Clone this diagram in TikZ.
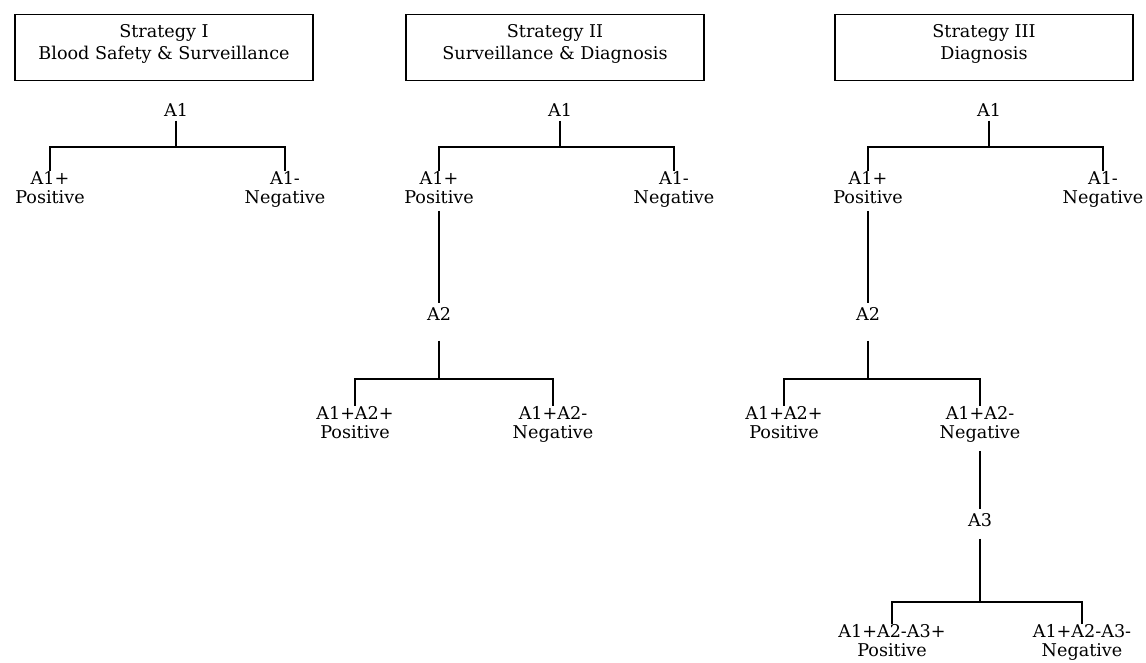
\documentclass[tikz,border=0pt]{standalone}
\usepackage{fontspec}
\setmainfont{DejaVu Serif}

\begin{document}
\begin{tikzpicture}[x=0.75pt,y=-0.75pt,line join=miter,
  head/.style={draw,line width=0.9pt,minimum width=223.5pt,minimum height=50pt,inner xsep=2pt,inner ysep=0pt,
    text depth=8.4pt,align=center,font=\fontsize{13.2}{16.5}\selectfont},
  tag/.style={inner sep=3pt,font=\fontsize{13.2}{14.5}\selectfont},
  lbl/.style={anchor=north,align=center,inner sep=0pt,font=\fontsize{13.2}{14.5}\selectfont},
  link/.style={line width=0.9pt}]
\useasboundingbox (0,0) rectangle (1146,662);
% strategy headers
\node[head] (hI) at (164,47.5) {Strategy I\\Blood Safety \& Surveillance};
\node[head] (hII) at (555,47.5) {Strategy II\\Surveillance \& Diagnosis};
\node[head] (hIII) at (984,47.5) {Strategy III\\Diagnosis};
% strategy I
\node[tag] (IA1) at (176,110) {A1};
\node[lbl] (IPos) at (50,171) {A1+\\Positive};
\node[lbl] (INeg) at (285,171) {A1-\\Negative};
\draw[link] (IA1.south) |- (IPos.north |- 0,147) -- (IPos.north);
\draw[link] (IA1.south) |- (INeg.north |- 0,147) -- (INeg.north);
% strategy II
\node[tag] (IIA1) at (560,110) {A1};
\node[lbl] (IIPos) at (439,171) {A1+\\Positive};
\node[lbl] (IINeg) at (674,171) {A1-\\Negative};
\node[tag] (IIA2) at (439,314) {A2};
\node[lbl] (IIPosPos) at (355,406) {A1+A2+\\Positive};
\node[lbl] (IIPosNeg) at (553,406) {A1+A2-\\Negative};
\draw[link] (IIA1.south) |- (IIPos.north |- 0,147) -- (IIPos.north);
\draw[link] (IIA1.south) |- (IINeg.north |- 0,147) -- (IINeg.north);
\draw[link,shorten <=5pt] (IIPos.south) -- (IIA2.north);
\draw[link,shorten <=12pt] (IIA2.south) |- (IIPosPos.north |- 0,379) -- (IIPosPos.north);
\draw[link,shorten <=12pt] (IIA2.south) |- (IIPosNeg.north |- 0,379) -- (IIPosNeg.north);
% strategy III
\node[tag] (IIIA1) at (989,110) {A1};
\node[lbl] (IIIPos) at (868,171) {A1+\\Positive};
\node[lbl] (IIINeg) at (1103,171) {A1-\\Negative};
\node[tag] (IIIA2) at (868,314) {A2};
\node[lbl] (IIIPosPos) at (784,406) {A1+A2+\\Positive};
\node[lbl] (IIIPosNeg) at (980,406) {A1+A2-\\Negative};
\node[tag] (IIIA3) at (980,520) {A3};
\node[lbl] (IIIA3Pos) at (892,624) {A1+A2-A3+\\Positive};
\node[lbl] (IIIA3Neg) at (1082,624) {A1+A2-A3-\\Negative};
\draw[link] (IIIA1.south) |- (IIIPos.north |- 0,147) -- (IIIPos.north);
\draw[link] (IIIA1.south) |- (IIINeg.north |- 0,147) -- (IIINeg.north);
\draw[link,shorten <=5pt] (IIIPos.south) -- (IIIA2.north);
\draw[link,shorten <=12pt] (IIIA2.south) |- (IIIPosPos.north |- 0,379) -- (IIIPosPos.north);
\draw[link,shorten <=12pt] (IIIA2.south) |- (IIIPosNeg.north |- 0,379) -- (IIIPosNeg.north);
\draw[link,shorten <=6pt] (IIIPosNeg.south) -- (IIIA3.north);
\draw[link,shorten <=6pt] (IIIA3.south) |- (IIIA3Pos.north |- 0,602) -- (IIIA3Pos.north);
\draw[link,shorten <=6pt] (IIIA3.south) |- (IIIA3Neg.north |- 0,602) -- (IIIA3Neg.north);
\end{tikzpicture}
\end{document}
